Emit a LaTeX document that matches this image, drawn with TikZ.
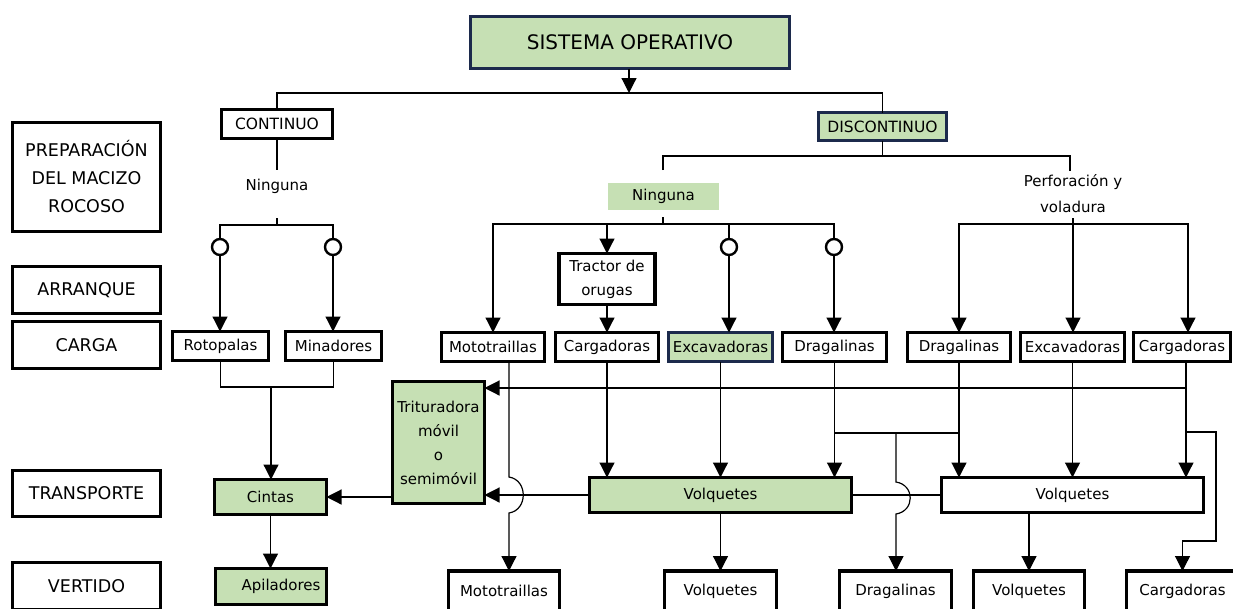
\documentclass[tikz,border=0pt]{standalone}
\usepackage{fontspec}
\setmainfont{DejaVu Sans}
\usetikzlibrary{arrows.meta,calc}
\definecolor{lgreen}{RGB}{198,224,180}
\definecolor{navy}{RGB}{28,42,76}
\begin{document}
\begin{tikzpicture}[x=1pt,y=-1pt,
  box/.style={draw=black,line width=3.2pt,fill=white,inner sep=0pt,outer sep=0pt,align=center,font=\fontsize{15}{24}\selectfont},
  gbox/.style={box,fill=lgreen},
  nbox/.style={gbox,draw=navy},
  lbl/.style={box,font=\fontsize{17.5}{28}\selectfont},
  conn/.style={line width=1.2pt},
  arr/.style={conn,-{Triangle[length=15pt,width=15pt]}},
  circ/.style={circle,draw,line width=2.4pt,fill=white,minimum size=16pt,inner sep=0pt},
  txt/.style={inner sep=0pt,align=center,font=\fontsize{15}{26}\selectfont}]
\useasboundingbox (0,0) rectangle (1233,608);
% level labels
\node[lbl,minimum width=148,minimum height=109] (prep) at (86.5,177) {PREPARACIÓN\\DEL MACIZO\\ROCOSO};
\node[lbl,minimum width=148,minimum height=47] (arranque) at (86.5,290) {ARRANQUE};
\node[lbl,minimum width=148,minimum height=47] (carga) at (86.5,345) {CARGA};
\node[lbl,minimum width=148,minimum height=46] (transp) at (86.5,493.5) {TRANSPORTE};
\node[lbl,minimum width=148,minimum height=47] (vert) at (86.5,586) {VERTIDO};
% top
\node[nbox,minimum width=319,minimum height=52,font=\fontsize{20}{24}\selectfont] (title) at (630,42.5) {SISTEMA OPERATIVO};
\node[box,minimum width=111,minimum height=29,font=\fontsize{15.5}{24}\selectfont] (cont) at (277,124) {CONTINUO};
\node[nbox,minimum width=128,minimum height=28,font=\fontsize{15.5}{24}\selectfont] (disc) at (882.5,126.5) {DISCONTINUO};
\node[txt] (n1) at (277,186) {Ninguna};
\node[txt,fill=lgreen,minimum width=111,minimum height=27] (n2) at (663.5,196.5) {Ninguna};
\node[txt] (perf) at (1073,194) {Perforación y\\voladura};
% circles
\node[circ] (c1) at (220,247) {};
\node[circ] (c2) at (333,247) {};
\node[circ] (c3) at (729,247) {};
\node[circ] (c4) at (834,247) {};
\node[box,minimum width=96,minimum height=51] (tract) at (607,279) {Tractor de\\orugas};
% carga row
\node[box,minimum width=96,minimum height=29] (roto) at (220.5,346) {Rotopalas};
\node[box,minimum width=96,minimum height=29] (mina) at (333.5,346) {Minadores};
\node[box,minimum width=103,minimum height=29] (moto) at (493,347) {Mototraillas};
\node[box,minimum width=103,minimum height=29] (carg) at (607,347) {Cargadoras};
\node[nbox,minimum width=104,minimum height=29] (exc) at (720.5,347) {Excavadoras};
\node[box,minimum width=104,minimum height=29] (drag) at (834.5,347) {Dragalinas};
\node[box,minimum width=103,minimum height=29] (drag2) at (959,347) {Dragalinas};
\node[box,minimum width=104,minimum height=29] (exc2) at (1072.5,347) {Excavadoras};
\node[box,minimum width=97,minimum height=29] (carg2) at (1182,347) {Cargadoras};
% transport
\node[gbox,minimum width=92,minimum height=122] (trit) at (438.5,442.5) {Trituradora\\móvil\\o\\semimóvil};
\node[gbox,minimum width=112,minimum height=35] (cintas) at (270.5,497) {Cintas};
\node[gbox,minimum width=262,minimum height=35] (volq) at (720.5,495) {Volquetes};
\node[box,minimum width=262,minimum height=35] (volq2) at (1072.5,495) {Volquetes};
% vertido
\node[gbox,minimum width=111,minimum height=36] (apil) at (271,586.5) {\hspace*{20pt}Apiladores};
\node[box,minimum width=111,minimum height=40] (bmoto) at (504,591) {Mototraillas};
\node[box,minimum width=112,minimum height=40] (bvolq) at (720.5,591) {Volquetes};
\node[box,minimum width=112,minimum height=40] (bdrag) at (895.5,591) {Dragalinas};
\node[box,minimum width=111,minimum height=40] (bvolq2) at (1029,591) {Volquetes};
\node[box,minimum width=112,minimum height=40] (bcarg) at (1182.5,591) {Cargadoras};
% coordinates
\coordinate (tj) at (629,93);
\coordinate (n1t) at (277,170);
\coordinate (n1b) at (277,218);
\coordinate (j1) at (277,225);
\coordinate (j2) at (271,387);
\coordinate (j3) at (882,156);
\coordinate (n2t) at (663,170);
\coordinate (pt) at (1070,171);
\coordinate (n2b) at (663,217);
\coordinate (j4) at (663,224);
\coordinate (pb) at (1073,218);
\coordinate (j5) at (1073,224);
\coordinate (cc) at (1188,224);
\coordinate (k2) at (1186,388);
\coordinate (k3) at (1186,432);
\coordinate (k4) at (1216,541);
\coordinate (m1) at (509,477);
\coordinate (m2) at (509,513);
\coordinate (d1) at (834.5,433);
\coordinate (d2) at (959,433);
\coordinate (h1) at (896,433);
\coordinate (h2) at (896,482);
\coordinate (h3) at (896,514);
% connectors
\draw[arr] (title.south -| tj) -- (tj);
\draw[conn] (cont.north) -- (cont.north |- tj) -- (disc.north |- tj) -- (disc.north);
\draw[conn] (cont.south) -- (n1t);
\draw[conn] (n1b) -- (j1);
\draw[conn] (c1.north) |- (j1) -| (c2.north);
\draw[arr] (c1.south) -- (c1.south |- roto.north);
\draw[arr] (c2.south) -- (c2.south |- mina.north);
\draw[conn] (roto.south) |- (j2) -| (mina.south);
\draw[arr] (j2) -- (j2 |- cintas.north);
\draw[arr] (trit.west |- cintas.east) -- (cintas.east);
\draw[arr] (cintas.south) -- (cintas.south |- apil.north);
\draw[conn] (disc.south) -- (disc.south |- j3);
\draw[conn] (n2t) |- (j3) -| (pt);
\draw[conn] (n2b) -- (j4);
\draw[arr] (j4) -| (moto.north);
\draw[arr] (j4) -| (tract.north);
\draw[conn] (j4) -| (c3.north);
\draw[conn] (j4) -| (c4.north);
\draw[arr] (tract.south) -- (carg.north);
\draw[arr] (c3.south) -- (c3.south |- exc.north);
\draw[arr] (c4.south) -- (c4.south |- drag.north);
\draw[arr] (pb) -- (pb |- exc2.north);
\draw[arr] (j5) -| (drag2.north);
\draw[arr] (j5) -- (cc) -- (cc |- carg2.north);
\draw[arr] (carg2.south -| k2) -- (volq2.north -| k2);
\draw[arr] (k2) -- (trit.east |- k2);
\draw[arr] (k3) -| (k4) -| (bcarg.north);
\draw[arr] (moto.south -| m1) -- (m1) .. controls +(19,3) and +(19,-3) .. (m2) -- (m2 |- bmoto.north);
\draw[arr] (carg.south) -- (carg.south |- volq.north);
\draw[arr] (exc.south) -- (exc.south |- volq.north);
\draw[arr] (drag.south) -- (drag.south |- volq.north);
\draw[conn] (d1) -- (d2);
\draw[arr] (drag2.south) -- (drag2.south |- volq2.north);
\draw[arr] (exc2.south) -- (exc2.south |- volq2.north);
\draw[arr] (volq.west) -- (volq.west -| trit.east);
\draw[conn] (volq.east) -- (volq2.west);
\draw[arr] (volq.south) -- (bvolq.north);
\draw[arr] (h1) -- (h2) .. controls +(19,3) and +(19,-3) .. (h3) -- (h3 |- bdrag.north);
\draw[arr] (volq2.south -| bvolq2.north) -- (bvolq2.north);
\end{tikzpicture}
\end{document}
